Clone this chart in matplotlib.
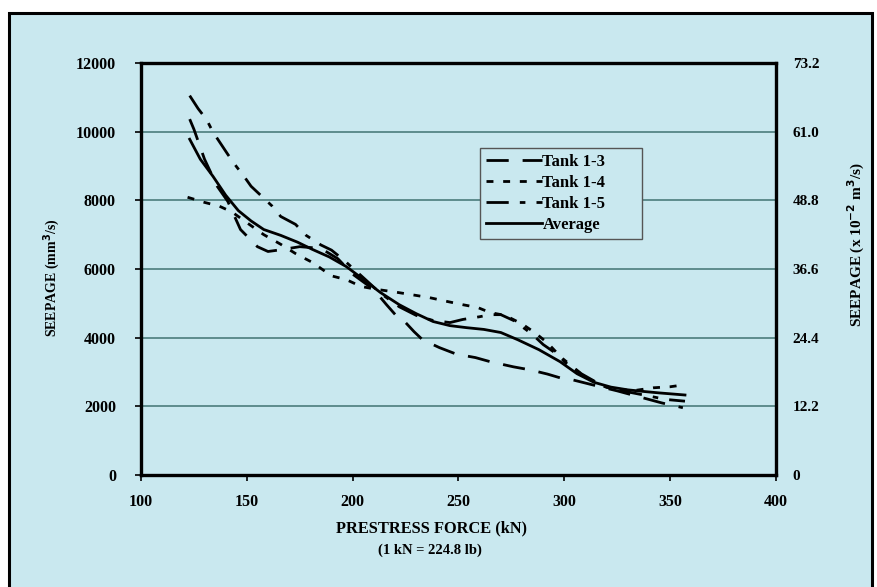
import matplotlib
matplotlib.use("Agg")
import matplotlib.pyplot as plt
import matplotlib.patches as patches
from matplotlib.lines import Line2D

plt.rcParams['font.family'] = 'Liberation Serif'
plt.rcParams['font.weight'] = 'bold'
plt.rcParams['lines.scale_dashes'] = False

# Values
tank13_x = [123, 125, 130, 136, 141, 147, 155, 160, 166, 175, 185, 193, 200, 210, 216, 221,
            225, 229, 233, 241, 249, 258, 265, 276, 284, 292, 298, 304, 315, 325, 337, 346, 356]
tank13_y = [10365, 10070, 9200, 8410, 7970, 7150, 6650, 6510, 6560, 6650, 6600, 6300, 5850, 5400,
            4960, 4610, 4440, 4175, 3940, 3710, 3520, 3420, 3300, 3150, 3060, 2940, 2830, 2770,
            2600, 2450, 2250, 2100, 1960]

tank14_x = [122, 130, 137, 143, 150, 158, 166, 173, 181, 190, 197, 204, 212, 219, 227, 236, 245,
            252, 259, 265, 272, 280, 286, 292, 296, 300, 310, 320, 332, 342, 350, 357]
tank14_y = [8090, 7940, 7830, 7660, 7350, 7000, 6720, 6450, 6190, 5800, 5690, 5490, 5400, 5340,
            5260, 5170, 5050, 4960, 4880, 4730, 4650, 4400, 4150, 3850, 3590, 3300, 2850, 2550,
            2450, 2540, 2570, 2630]

tank15_x = [123, 127, 131, 134, 141, 145, 149, 152, 157, 162, 166, 173, 178, 185, 190, 196, 205,
            213, 222, 230, 238, 246, 252, 260, 265, 270, 276, 282, 285, 290, 297, 303, 308, 318,
            330, 340, 348, 357]
tank15_y = [11050, 10670, 10350, 9990, 9340, 8990, 8670, 8410, 8120, 7830, 7530, 7300, 6980, 6700,
            6550, 6250, 5750, 5300, 4900, 4650, 4500, 4440, 4530, 4610, 4670, 4670, 4500, 4230,
            4090, 3800, 3500, 3200, 2950, 2600, 2420, 2300, 2200, 2150]

avg_x = [123, 128, 134, 140, 146, 152, 158, 166, 174, 181, 189, 197, 205, 213, 222, 230, 238, 246,
         254, 262, 270, 278, 288, 298, 306, 314, 322, 330, 338, 345, 351, 357]
avg_y = [9780, 9200, 8700, 8150, 7700, 7400, 7150, 6980, 6780, 6570, 6350, 6070, 5700, 5320, 4960,
         4700, 4470, 4350, 4290, 4240, 4150, 3940, 3650, 3300, 2950, 2700, 2560, 2480, 2430, 2390,
         2360, 2330]

left_ticks = [0, 2000, 4000, 6000, 8000, 10000, 12000]
right_ticks = [0, 12.2, 24.4, 36.6, 48.8, 61.0, 73.2]
right_labels = ['0', '12.2', '24.4', '36.6', '48.8', '61.0', '73.2']
x_ticks = [100, 150, 200, 250, 300, 350, 400]

bg = '#c9e8ef'
lw = 2.0
styles = {
    'Tank 1-3': (0, (16, 10)),
    'Tank 1-4': (0, (5, 7)),
    'Tank 1-5': (0, (16, 8, 4, 8)),
    'Average': '-',
}

fig = plt.figure(figsize=(8.78, 5.87), dpi=100)
fig.patch.set_facecolor('white')

# outer framed panel
frame = patches.Rectangle((9 / 878, -0.05), 863 / 878, 1.05 - 13 / 587,
                          transform=fig.transFigure, facecolor=bg, edgecolor='black',
                          linewidth=2.2, zorder=-10)
fig.patches.append(frame)

ax = fig.add_axes([141 / 878, 1 - 475 / 587, 635 / 878, 412 / 587])
ax.set_facecolor(bg)

ax.plot(tank13_x, tank13_y, color='black', lw=lw, ls=styles['Tank 1-3'], label='Tank 1-3')
ax.plot(tank14_x, tank14_y, color='black', lw=lw, ls=styles['Tank 1-4'], label='Tank 1-4')
ax.plot(tank15_x, tank15_y, color='black', lw=lw, ls=styles['Tank 1-5'], label='Tank 1-5')
ax.plot(avg_x, avg_y, color='black', lw=lw, ls=styles['Average'], label='Average')

ax.set_xlim(100, 400)
ax.set_ylim(0, 12000)
ax.set_xticks(x_ticks)
ax.set_yticks(left_ticks)
ax.yaxis.grid(True, color='#558585', linewidth=1.3)
ax.set_axisbelow(True)
for s in ax.spines.values():
    s.set_linewidth(2.4)
    s.set_color('black')
ax.tick_params(axis='both', direction='out', length=4, width=1.2, labelsize=11.5)
ax.tick_params(axis='y', pad=14)
ax.tick_params(axis='x', pad=10)

ax2 = ax.twinx()
ax2.set_ylim(0, 73.2)
ax2.set_yticks(right_ticks)
ax2.set_yticklabels(right_labels)
ax2.tick_params(axis='y', length=0, labelsize=11, pad=12)
for s in ax2.spines.values():
    s.set_visible(False)

fig.text(52 / 878, 1 - 278 / 587, 'SEEPAGE (mm$^\\mathbf{3}$/s)', rotation=90,
         ha='center', va='center', fontsize=10, fontweight='bold')
fig.text(856 / 878, 1 - 245 / 587, 'SEEPAGE (x 10$^\\mathbf{-2}$ m$^\\mathbf{3}$/s)', rotation=90,
         ha='center', va='center', fontsize=11, fontweight='bold')
fig.text(432 / 878, 1 - 528 / 587, 'PRESTRESS FORCE (kN)', ha='center', va='center',
         fontsize=11.8, fontweight='bold')
fig.text(430 / 878, 1 - 550 / 587, '(1 kN = 224.8 lb)', ha='center', va='center',
         fontsize=10.5, fontweight='bold')

handles = [Line2D([], [], color='black', lw=lw, ls=styles[k]) for k in styles]
leg = fig.legend(handles, list(styles.keys()), loc='upper left',
                 bbox_to_anchor=(480 / 878, 1 - 148 / 587, 162 / 878, 0), mode='expand',
                 borderaxespad=0, frameon=True, fancybox=False,
                 handlelength=3.4, handletextpad=0.0, labelspacing=0.3, borderpad=0.35,
                 prop={'family': 'Liberation Serif', 'weight': 'bold', 'size': 12})
leg.get_frame().set_facecolor(bg)
leg.get_frame().set_edgecolor('#555555')
leg.get_frame().set_linewidth(1.0)
leg.get_frame().set_alpha(1)

fig.savefig('out.png', dpi=100, facecolor=fig.get_facecolor())
